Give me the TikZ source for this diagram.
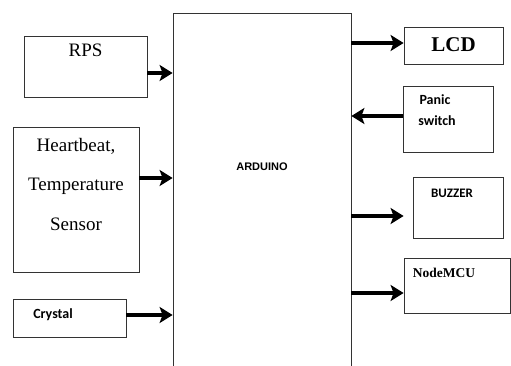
\documentclass[tikz,border=0pt]{standalone}
\usepackage{fontspec}
\setmainfont{Liberation Serif}
\newfontfamily\calibrifont{Carlito}
\newfontfamily\arialfont{Liberation Sans}
\usetikzlibrary{arrows.meta,
	calc,
	positioning}

\begin{document}
\begin{tikzpicture}[x=1pt,y=-1pt]
    \tikzstyle{block}=[draw=black!80,line width=0.8pt,inner sep=0pt]
    \tikzstyle{txt}=[inner sep=0pt,anchor=base]
    \tikzstyle{arr}=[line width=4.5pt,-{Stealth[length=13pt,width=16pt,inset=3pt]}]
    \useasboundingbox (0,0) rectangle (511,366);
    % blocks
    \node[block,minimum width=178,minimum height=377] (b_ard) at (262,201.5) {};
    \node[block,minimum width=123,minimum height=61] (b_rps) at (85.5,66.5) {};
    \node[block,minimum width=126,minimum height=145] (b_hb) at (76,199.5) {};
    \node[block,minimum width=113,minimum height=38] (b_cry) at (69.5,318) {};
    \node[block,minimum width=99,minimum height=37] (b_lcd) at (453.5,45.5) {};
    \node[block,minimum width=90,minimum height=66] (b_pan) at (448,119) {};
    \node[block,minimum width=90,minimum height=61] (b_buz) at (458,207.5) {};
    \node[block,minimum width=106,minimum height=55] (b_mcu) at (457,285.5) {};
    % texts
    \node[txt] (t_ard) at (262,171) {\arialfont\bfseries\fontsize{11}{13}\selectfont ARDUINO};
    \node[txt] (t_rps) at (85.5,57) {\fontsize{19}{22}\selectfont RPS};
    \node[txt] (t_hb1) at (76,152) {\fontsize{19}{22}\selectfont Heartbeat,};
    \node[txt] (t_hb2) at (76,190) {\fontsize{19}{22}\selectfont Temperature};
    \node[txt] (t_hb3) at (76,230) {\fontsize{19}{22}\selectfont Sensor};
    \node[txt] (t_cry) at (53,318) {\calibrifont\bfseries\fontsize{14}{16}\selectfont Crystal};
    \node[txt] (t_lcd) at (453.5,52) {\bfseries\fontsize{21}{24}\selectfont LCD};
    \node[txt] (t_pan1) at (435,105) {\calibrifont\bfseries\fontsize{14}{16}\selectfont Panic};
    \node[txt] (t_pan2) at (437,126) {\calibrifont\bfseries\fontsize{14}{16}\selectfont switch};
    \node[txt] (t_buz) at (452,197) {\calibrifont\bfseries\fontsize{13}{15}\selectfont BUZZER};
    \node[txt] (t_mcu) at (444,277) {\bfseries\fontsize{13.5}{16}\selectfont NodeMCU};
    % arrows
    \draw[arr] (b_rps.east |- 0,73) -- (b_ard.west |- 0,73);
    \draw[arr] (b_hb.east |- 0,178) -- (b_ard.west |- 0,178);
    \draw[arr] (b_cry.east |- 0,315) -- (b_ard.west |- 0,315);
    \draw[arr] (b_ard.east |- 0,43) -- (b_lcd.west |- 0,43);
    \draw[arr] (b_pan.west |- 0,116) -- (b_ard.east |- 0,116);
    \draw[arr] (b_ard.east |- 0,216) -- (b_lcd.west |- 0,216);
    \draw[arr] (b_ard.east |- 0,293) -- (b_mcu.west |- 0,293);
\end{tikzpicture}
\end{document}
